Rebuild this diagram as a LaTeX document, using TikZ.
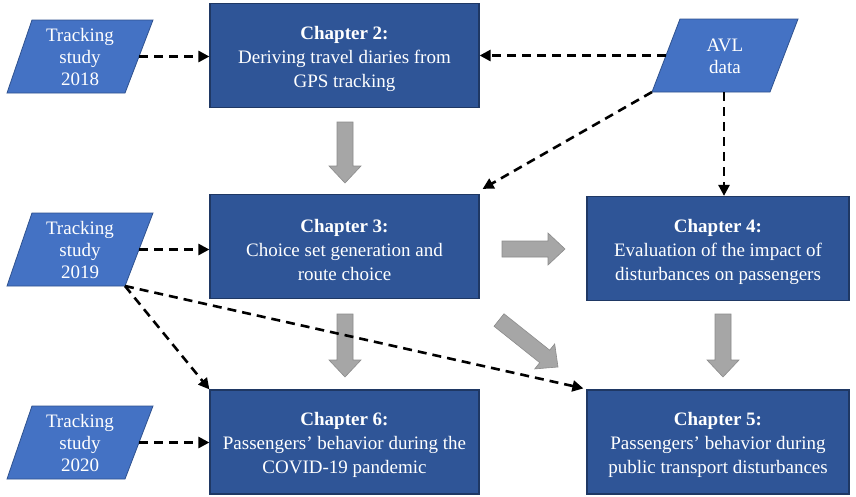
\documentclass[tikz,border=0pt]{standalone}
\usepackage{fontspec}
\setmainfont{Liberation Serif}
\usetikzlibrary{arrows.meta,calc}
\definecolor{chapfill}{HTML}{2F5597}
\definecolor{chapline}{HTML}{1F3864}
\definecolor{parafill}{HTML}{4472C4}
\definecolor{paraline}{HTML}{2F528F}
\definecolor{arrfill}{HTML}{A6A6A6}
\definecolor{arrline}{HTML}{8C8C8C}
\tikzset{
 chapbox/.style={draw=chapline, fill=chapfill, line width=1.2pt, minimum height=104pt, inner sep=0pt},
 chaptext/.style={text=white, align=center, font=\fontsize{19}{24}\selectfont, inner sep=0pt, yshift=-3pt},
 parabox/.style={draw=paraline, fill=parafill, line width=0.8pt},
 paratext/.style={text=white, align=center, font=\fontsize{19}{22}\selectfont, inner sep=0pt},
 dasharrow/.style={line width=2.6pt, dash pattern=on 9pt off 6pt, -{Triangle[length=11pt,width=11pt]}},
 grayarrow/.style={fill=arrfill, draw=arrline, line width=0.6pt},
}
\newcommand\blockarr[2]{%
 \coordinate (ba-a) at #1; \coordinate (ba-b) at #2;
 \coordinate (ba-h) at ($(ba-b)!17pt!(ba-a)$);
 \filldraw[grayarrow] ($(ba-a)!8pt!90:(ba-b)$) -- ($(ba-h)!8pt!90:(ba-b)$) -- ($(ba-h)!16pt!90:(ba-b)$) -- (ba-b) -- ($(ba-h)!16pt!-90:(ba-b)$) -- ($(ba-h)!8pt!-90:(ba-b)$) -- ($(ba-a)!8pt!-90:(ba-b)$) -- cycle;}
\begin{document}
\begin{tikzpicture}[x=1pt,y=-1pt]
\fill[white] (0,0) rectangle (856,496);
\useasboundingbox (0,0) rectangle (856,496);
% parallelograms
\filldraw[parabox] (32,20) -- (153,20) -- (125,93) -- (7,93) -- cycle;
\filldraw[parabox] (32,213) -- (153,213) -- (125,286) -- (7,286) -- cycle;
\filldraw[parabox] (32,406) -- (153,406) -- (125,479) -- (7,479) -- cycle;
\filldraw[parabox] (680,19) -- (798,19) -- (770,92) -- (652,92) -- cycle;
\node[paratext] (t18) at (80,57) {Tracking\\study\\2018};
\node[paratext] (t19) at (80,250) {Tracking\\study\\2019};
\node[paratext] (t20) at (80,443) {Tracking\\study\\2020};
\node[paratext] (avl) at (725,56) {AVL\\data};
\coordinate (t18r) at (139,56.5);
\coordinate (t19r) at (139,249.5);
\coordinate (t19c) at (125,286);
\coordinate (t20r) at (139,442.5);
\coordinate (avll) at (666,55.5);
\coordinate (avlc) at (652,92);
\coordinate (avlb) at (724,92);
% chapters
\node[chapbox, minimum width=269pt, label={[chaptext]center:{\textbf{Chapter 2:}\\Deriving travel diaries from\\GPS tracking}}] (ch2) at (344.5,55.5) {};
\node[chapbox, minimum width=269pt, label={[chaptext]center:{\textbf{Chapter 3:}\\Choice set generation and\\route choice}}] (ch3) at (344.5,246.5) {};
\node[chapbox, minimum width=269pt, label={[chaptext]center:{\textbf{Chapter 6:}\\Passengers' behavior during the\\COVID-19 pandemic}}] (ch6) at (344.5,442) {};
\node[chapbox, minimum width=262pt, label={[chaptext]center:{\textbf{Chapter 4:}\\Evaluation of the impact of\\disturbances on passengers}}] (ch4) at (718,248.5) {};
\node[chapbox, minimum width=262pt, label={[chaptext]center:{\textbf{Chapter 5:}\\Passengers' behavior during\\public transport disturbances}}] (ch5) at (718,442) {};
% gray block arrows
\blockarr{(345,122)}{(345,183)}
\blockarr{(345,314)}{(345,377)}
\blockarr{(502,249)}{(565,249)}
\blockarr{(723,314)}{(723,377)}
\blockarr{(499,320)}{(558,367)}
% dashed connectors
\draw[dasharrow] (t18r) -- (ch2.west |- t18r);
\draw[dasharrow] (avll) -- (ch2.east |- avll);
\draw[dasharrow] (avlc) -- ($(ch3.north east)+(3,-5)$);
\draw[dasharrow] (avlb) -- (avlb |- ch4.north);
\draw[dasharrow] (t19r) -- (ch3.west |- t19r);
\draw[dasharrow] (t19c) -- (ch6.north west);
\draw[dasharrow] (t19c) -- ($(ch5.north west)+(-3,-1)$);
\draw[dasharrow] (t20r) -- (ch6.west |- t20r);
\end{tikzpicture}
\end{document}
